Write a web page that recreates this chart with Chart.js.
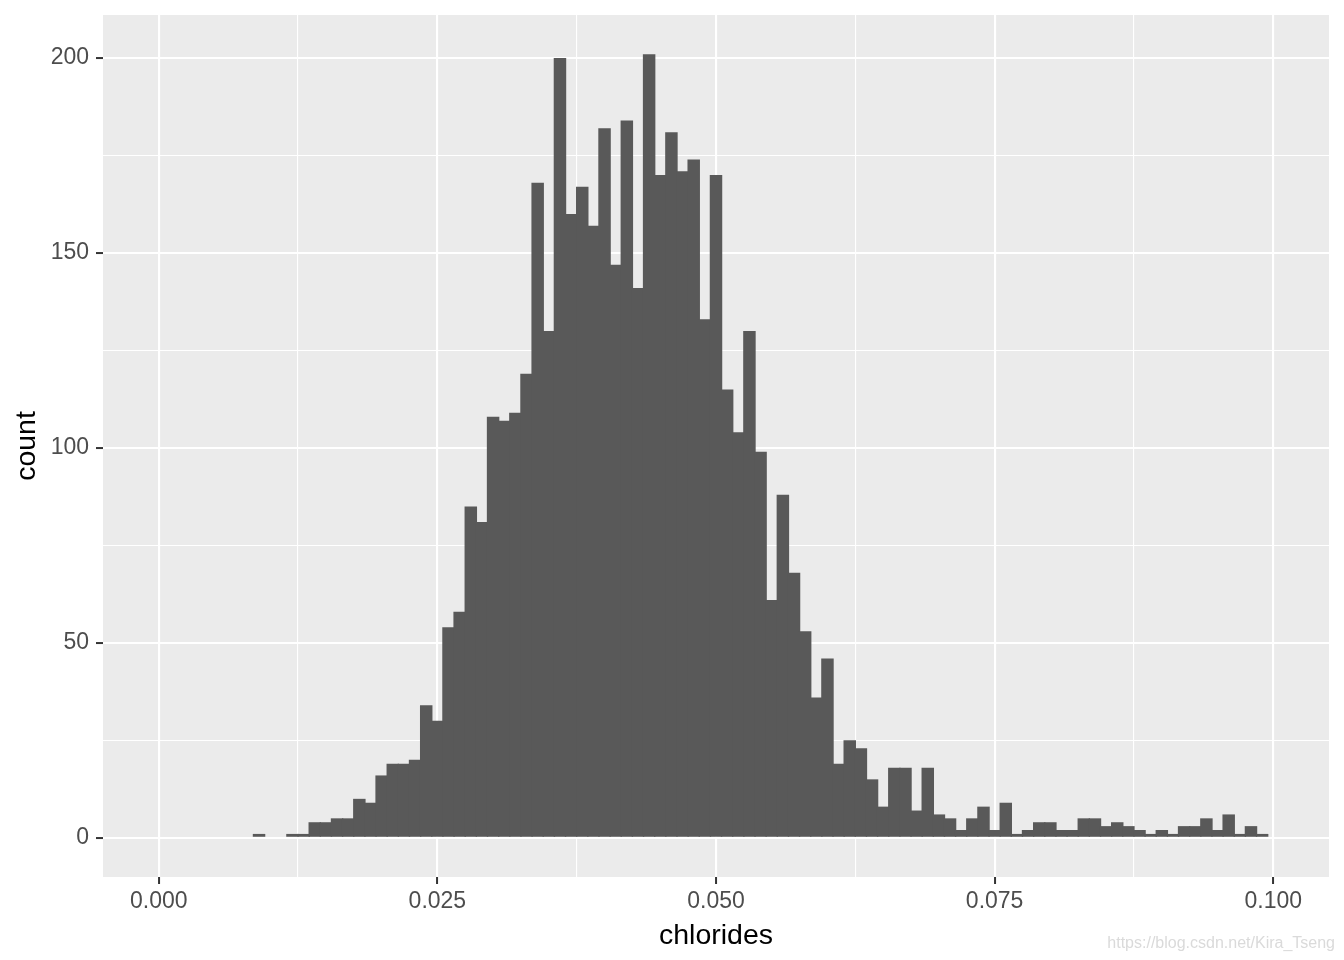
<!DOCTYPE html>
<html>
<head>
<meta charset="utf-8">
<title>chlorides</title>
<script src="https://cdn.jsdelivr.net/npm/chart.js@4.4.1/dist/chart.umd.min.js"></script>
<style>
  html, body { margin: 0; padding: 0; background: #fff; }
  #wrap { width: 1344px; height: 960px; position: relative; }
</style>
</head>
<body>
<div id="wrap"><canvas id="histo"></canvas></div>
<script>
// histogram of chlorides, binwidth 0.001
const binCenters = [
  0.009, 0.010, 0.011, 0.012, 0.013, 0.014, 0.015, 0.016, 0.017, 0.018, 0.019,
  0.020, 0.021, 0.022, 0.023, 0.024, 0.025, 0.026, 0.027, 0.028, 0.029,
  0.030, 0.031, 0.032, 0.033, 0.034, 0.035, 0.036, 0.037, 0.038, 0.039,
  0.040, 0.041, 0.042, 0.043, 0.044, 0.045, 0.046, 0.047, 0.048, 0.049,
  0.050, 0.051, 0.052, 0.053, 0.054, 0.055, 0.056, 0.057, 0.058, 0.059,
  0.060, 0.061, 0.062, 0.063, 0.064, 0.065, 0.066, 0.067, 0.068, 0.069,
  0.070, 0.071, 0.072, 0.073, 0.074, 0.075, 0.076, 0.077, 0.078, 0.079,
  0.080, 0.081, 0.082, 0.083, 0.084, 0.085, 0.086, 0.087, 0.088, 0.089,
  0.090, 0.091, 0.092, 0.093, 0.094, 0.095, 0.096, 0.097, 0.098, 0.099
];
const counts = [
  1, 0, 0, 1, 1, 4, 4, 5, 5, 10, 9,
  16, 19, 19, 20, 34, 30, 54, 58, 85, 81,
  108, 107, 109, 119, 168, 130, 200, 160, 167, 157,
  182, 147, 184, 141, 201, 170, 181, 171, 174, 133,
  170, 115, 104, 130, 99, 61, 88, 68, 53, 36,
  46, 19, 25, 23, 15, 8, 18, 18, 7, 18,
  6, 5, 2, 5, 8, 2, 9, 1, 2, 4,
  4, 2, 2, 5, 5, 3, 4, 3, 2, 1,
  2, 1, 3, 3, 5, 2, 6, 1, 3, 1
];

const xMajor = [0, 0.025, 0.05, 0.075, 0.1];
const xMinor = [0.0125, 0.0375, 0.0625, 0.0875];
const xLabels = ['0.000', '0.025', '0.050', '0.075', '0.100'];
const yMajor = [0, 50, 100, 150, 200];
const yMinor = [25, 75, 125, 175];
const yLabels = ['0', '50', '100', '150', '200'];

(() => {
  const FONT = "'Liberation Sans', Arial, sans-serif";
  const PANEL = '#EBEBEB';

  const tickList = (major, minor) => [...major, ...minor].sort((a, b) => a - b).map(v => ({ value: v }));
  const gridWidth = major => ctx => (ctx.tick && major.includes(ctx.tick.value)) ? 2.1 : 1.1;
  const tickColor = major => ctx => (ctx.tick && major.includes(ctx.tick.value)) ? '#333333' : 'rgba(0,0,0,0)';
  const label = (major, labels) => v => { const i = major.indexOf(v); return i < 0 ? '' : labels[i]; };
  // fixed box sizes, no extra label padding so the panel sits where the reference has it
  const fixBox = (w, h) => s => {
    if(w != null) s.width = w;
    if(h != null) s.height = h;
    s.paddingTop = 0; s.paddingBottom = 0; s.paddingLeft = 0; s.paddingRight = 0;
  };

  const panelBg = {
    id: 'panelBg',
    beforeDraw(chart){
      const { ctx, chartArea:a } = chart;
      ctx.save();
      ctx.fillStyle = PANEL;
      ctx.fillRect(a.left, a.top, a.right - a.left, a.bottom - a.top);
      ctx.restore();
    }
  };
  const watermark = {
    id: 'watermark',
    afterDraw(chart){
      const { ctx } = chart;
      ctx.save();
      ctx.font = `16px ${FONT}`;
      ctx.fillStyle = '#DADADA';
      ctx.textAlign = 'right';
      ctx.textBaseline = 'alphabetic';
      ctx.fillText('https://blog.csdn.net/Kira_Tseng', 1335, 948);
      ctx.restore();
    }
  };

  new Chart(document.getElementById('histo'), {
    type: 'bar',
    data: {
      datasets: [{
        data: binCenters.map((x, i) => ({ x, y: counts[i] })),
        backgroundColor: ctx => (ctx.raw && ctx.raw.y > 0) ? '#595959' : 'rgba(0,0,0,0)',
        borderWidth: 0,
        barPercentage: 1.12,   // >1px overlap hides antialias seams between bins
        categoryPercentage: 1
      }]
    },
    options: {
      responsive: true,
      maintainAspectRatio: false,
      animation: false,
      layout: { padding: { top: 15, right: 15, left: 0, bottom: 0 } },
      plugins: { legend: { display: false }, tooltip: { enabled: false } },
      scales: {
        x: {
          type: 'linear', min: -0.005, max: 0.105, offset: false,
          afterBuildTicks: s => { s.ticks = tickList(xMajor, xMinor); },
          afterFit: fixBox(null, 83),
          border: { display: false },
          grid: { offset: false, color: '#fff', lineWidth: gridWidth(xMajor), drawTicks: true,
                  tickLength: 7, tickWidth: 2, tickColor: tickColor(xMajor) },
          ticks: { autoSkip: false, maxRotation: 0, padding: 4, color: '#4D4D4D',
                   font: { family: FONT, size: 23 }, callback: label(xMajor, xLabels) },
          title: { display: true, text: 'chlorides', color: '#000',
                   font: { family: FONT, size: 28.5 }, padding: { top: 0, bottom: 7 } }
        },
        y: {
          type: 'linear', min: -10.05, max: 211.05,
          afterBuildTicks: s => { s.ticks = tickList(yMajor, yMinor); },
          afterFit: fixBox(103, null),
          border: { display: false },
          grid: { color: '#fff', lineWidth: gridWidth(yMajor), drawTicks: true,
                  tickLength: 7, tickWidth: 2, tickColor: tickColor(yMajor) },
          ticks: { autoSkip: false, padding: 7, color: '#4D4D4D',
                   font: { family: FONT, size: 23 }, callback: label(yMajor, yLabels) },
          title: { display: true, text: 'count', color: '#000',
                   font: { family: FONT, size: 28.5 }, padding: { top: 10, bottom: 0 } }
        }
      }
    },
    plugins: [panelBg, watermark]
  });
})();
</script>
</body>
</html>
